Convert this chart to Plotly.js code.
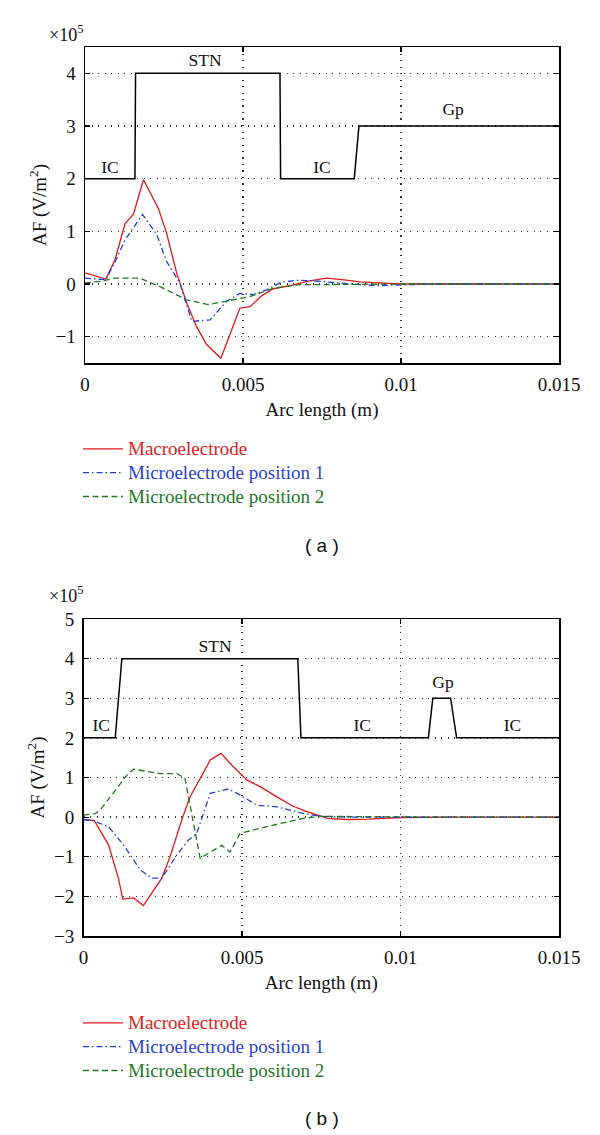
<!DOCTYPE html>
<html>
<head>
<meta charset="utf-8">
<script src="https://cdn.plot.ly/plotly-3.0.1.min.js"></script>
<style>html,body{margin:0;padding:0;background:#fff;}#chart{width:600px;height:1135px;}</style>
</head>
<body>
<div id="chart"></div>
<script>
// ---------- data (AF in units of 1e5 V/m^2, arc length in m) ----------
const seriesNames = ['Macroelectrode', 'Microelectrode position 1', 'Microelectrode position 2'];

// Panel (a)
const aMacroX = [0, 0.00066, 0.00095, 0.00127, 0.00153, 0.00185, 0.00232, 0.00258, 0.0029, 0.00322, 0.00353, 0.00385, 0.0043, 0.0049, 0.00522, 0.0056, 0.00596, 0.0065, 0.0071, 0.00765, 0.0082, 0.0087, 0.0093, 0.01, 0.011, 0.012, 0.013, 0.014, 0.015];
const aMacroY = [0.21, 0.095, 0.46, 1.15, 1.32, 1.98, 1.44, 0.97, 0.21, -0.36, -0.81, -1.15, -1.41, -0.46, -0.43, -0.22, -0.09, -0.03, 0.06, 0.11, 0.08, 0.04, 0.02, 0.0, 0, 0, 0, 0, 0];
const aMicro1X = [0, 0.00066, 0.00095, 0.00127, 0.00182, 0.00227, 0.00258, 0.003, 0.00338, 0.00396, 0.00448, 0.0049, 0.00533, 0.00575, 0.0062, 0.0067, 0.0072, 0.0080, 0.0087, 0.0093, 0.0102, 0.011, 0.012, 0.013, 0.014, 0.015];
const aMicro1Y = [0.11, 0.08, 0.42, 0.84, 1.32, 0.94, 0.43, 0.02, -0.71, -0.68, -0.33, -0.18, -0.2, -0.11, 0.03, 0.07, 0.06, 0.02, -0.01, -0.03, -0.01, 0, 0, 0, 0, 0];
const aMicro2X = [0, 0.00047, 0.00095, 0.00174, 0.00237, 0.00322, 0.0039, 0.00448, 0.00522, 0.00596, 0.0068, 0.0078, 0.009, 0.01, 0.011, 0.012, 0.013, 0.014, 0.015];
const aMicro2Y = [0.02, 0.05, 0.11, 0.11, -0.05, -0.30, -0.39, -0.32, -0.24, -0.08, -0.01, -0.01, 0, 0, 0, 0, 0, 0, 0];
const aRegionX = [0, 0.00158, 0.0016, 0.00617, 0.00619, 0.00852, 0.00867, 0.015];
const aRegionY = [2, 2, 4, 4, 2, 2, 3, 3];
const aLabelText = ['IC', 'STN', 'IC', 'Gp'];
const aLabelX = [0.00079, 0.0038, 0.0075, 0.01165];
const aLabelY = [2.2, 4.23, 2.2, 3.3];

// Panel (b)
const bMacroX = [0, 0.00034, 0.00079, 0.0011, 0.00124, 0.00158, 0.00189, 0.00247, 0.00273, 0.0031, 0.00336, 0.004, 0.00434, 0.00462, 0.00515, 0.00557, 0.0061, 0.0066, 0.0070, 0.0073, 0.0077, 0.0083, 0.009, 0.01, 0.011, 0.012, 0.013, 0.014, 0.015];
const bMacroY = [-0.06, -0.09, -0.7, -1.54, -2.07, -2.04, -2.23, -1.54, -1.0, -0.07, 0.51, 1.44, 1.61, 1.36, 0.94, 0.77, 0.51, 0.28, 0.15, 0.08, -0.03, -0.06, -0.05, -0.01, 0, 0, 0, 0, 0];
const bMicro1X = [0, 0.0003, 0.00079, 0.00126, 0.00179, 0.00216, 0.00247, 0.00294, 0.00331, 0.00357, 0.004, 0.00457, 0.00494, 0.00547, 0.0061, 0.0066, 0.0070, 0.0075, 0.0085, 0.01, 0.011, 0.012, 0.013, 0.014, 0.015];
const bMicro1Y = [-0.06, -0.09, -0.24, -0.7, -1.33, -1.54, -1.54, -0.96, -0.58, -0.41, 0.6, 0.71, 0.56, 0.3, 0.26, 0.15, 0.08, 0.02, 0, 0, 0, 0, 0, 0, 0];
const bMicro2X = [0, 0.00037, 0.00053, 0.00084, 0.00137, 0.00158, 0.0021, 0.00242, 0.00294, 0.0032, 0.00368, 0.004, 0.00436, 0.00462, 0.00494, 0.00578, 0.0062, 0.00693, 0.0075, 0.0085, 0.01, 0.011, 0.012, 0.013, 0.014, 0.015];
const bMicro2Y = [0.05, 0.09, 0.18, 0.51, 1.06, 1.21, 1.14, 1.1, 1.1, 0.98, -1.04, -0.88, -0.71, -0.88, -0.41, -0.24, -0.16, -0.03, 0.02, 0.01, 0, 0, 0, 0, 0, 0];
const bRegionX = [0, 0.001, 0.00121, 0.00676, 0.00686, 0.01088, 0.01102, 0.01158, 0.01177, 0.015];
const bRegionY = [2, 2, 4, 4, 2, 2, 3, 3, 2, 2];
const bLabelText = ['IC', 'STN', 'IC', 'Gp', 'IC'];
const bLabelX = [0.00056, 0.00415, 0.00879, 0.01134, 0.01353];
const bLabelY = [2.28, 4.28, 2.28, 3.36, 2.28];

// ticks
const xTickVals = [0, 0.005, 0.01, 0.015];
const xTickText = ['0', '0.005', '0.01', '0.015'];
const aYTicks = [-1, 0, 1, 2, 3, 4];
const bYTicks = [-3, -2, -1, 0, 1, 2, 3, 4, 5];

// ---------- styles ----------
const FONT = '"Liberation Serif", "Times New Roman", serif';
const SANS = '"Liberation Sans", Arial, sans-serif';
const colors = ['#e3191c', '#1f3fe0', '#1d7a1d'];
const textColors = ['#e02020', '#2a3fd8', '#23782a'];
const dashes = ['solid', '6px,3px,1.5px,3px', '6px,3.5px'];
const W = 600, H = 1135;
const px = v => v / W;
const py = v => 1 - v / H;

function series(xs, ys, i, xa, ya, lg) {
  return {
    x: xs, y: ys, type: 'scatter', mode: 'lines',
    xaxis: xa, yaxis: ya, legend: lg,
    name: '<span style="color:' + textColors[i] + ';font-size:19px">' + seriesNames[i] + '</span>',
    line: { color: colors[i], width: 1.3, dash: dashes[i] },
    hoverinfo: 'skip'
  };
}
function region(xs, ys, xa, ya) {
  return { x: xs, y: ys, type: 'scatter', mode: 'lines', xaxis: xa, yaxis: ya,
    line: { color: '#000', width: 1.5 }, showlegend: false, hoverinfo: 'skip' };
}
function labels(xs, ys, t, xa, ya) {
  return { x: xs, y: ys, text: t, type: 'scatter', mode: 'text', xaxis: xa, yaxis: ya,
    textposition: 'middle center', textfont: { family: FONT, size: 17.5, color: '#111' },
    showlegend: false, hoverinfo: 'skip' };
}

const traces = [
  region(aRegionX, aRegionY, 'x', 'y'),
  series(aMacroX, aMacroY, 0, 'x', 'y', 'legend'),
  series(aMicro1X, aMicro1Y, 1, 'x', 'y', 'legend'),
  series(aMicro2X, aMicro2Y, 2, 'x', 'y', 'legend'),
  labels(aLabelX, aLabelY, aLabelText, 'x', 'y'),
  region(bRegionX, bRegionY, 'x2', 'y2'),
  series(bMacroX, bMacroY, 0, 'x2', 'y2', 'legend2'),
  series(bMicro1X, bMicro1Y, 1, 'x2', 'y2', 'legend2'),
  series(bMicro2X, bMicro2Y, 2, 'x2', 'y2', 'legend2'),
  labels(bLabelX, bLabelY, bLabelText, 'x2', 'y2')
];

const common = {
  showline: true, linecolor: '#000', linewidth: 1.5, mirror: 'allticks',
  ticks: 'inside', ticklen: 5, tickwidth: 1.2, tickcolor: '#000',
  showgrid: true, gridcolor: '#333', gridwidth: 1.3, griddash: '1.3px,5.2px',
  zeroline: false, tickfont: { family: FONT, size: 19, color: '#111' },
  ticklabelstandoff: 4
};
function xaxis(domain, anchor) {
  return Object.assign({}, common, {
    domain: domain, anchor: anchor, range: [0, 0.015],
    tickmode: 'array', tickvals: xTickVals, ticktext: xTickText,
    title: { text: 'Arc length (m)', font: { family: FONT, size: 19, color: '#111' }, standoff: 8 }
  });
}
function yaxis(domain, anchor, range, ticks) {
  return Object.assign({}, common, {
    domain: domain, anchor: anchor, range: range,
    tickmode: 'array', tickvals: ticks,
    title: { text: 'AF (V/m<sup>2</sup>)', font: { family: FONT, size: 19, color: '#111' }, standoff: 4 }
  });
}
const legendCommon = {
  xanchor: 'left', yanchor: 'top', bgcolor: 'rgba(0,0,0,0)',
  font: { family: FONT, size: 16, color: '#111' }, itemwidth: 40, tracegroupgap: 0
};

function note(x, y, text, font) {
  return { xref: 'paper', yref: 'paper', x: px(x), y: py(y), xanchor: 'center', yanchor: 'middle',
    text: text, showarrow: false, font: font };
}

const layout = {
  width: W, height: H, margin: { l: 0, r: 0, t: 0, b: 0 },
  paper_bgcolor: '#fff', plot_bgcolor: '#fff',
  xaxis: xaxis([px(85), px(559)], 'y'),
  yaxis: yaxis([py(363), py(47)], 'x', [-1.5, 4.5], aYTicks),
  xaxis2: xaxis([px(83.5), px(559)], 'y2'),
  yaxis2: yaxis([py(936), py(619)], 'x2', [-3, 5], bYTicks),
  legend: Object.assign({}, legendCommon, { x: px(78), y: py(432) }),
  legend2: Object.assign({}, legendCommon, { x: px(78), y: py(1006) }),
  annotations: [
    note(66, 33, '×10<sup>5</sup>', { family: FONT, size: 18, color: '#111' }),
    note(66, 594, '×10<sup>5</sup>', { family: FONT, size: 18, color: '#111' }),
    note(322, 545, '( a )', { family: SANS, size: 19, color: '#111' }),
    note(322, 1118, '( b )', { family: SANS, size: 19, color: '#111' })
  ]
};

Plotly.newPlot('chart', traces, layout, { staticPlot: true, displayModeBar: false });
</script>
</body>
</html>
